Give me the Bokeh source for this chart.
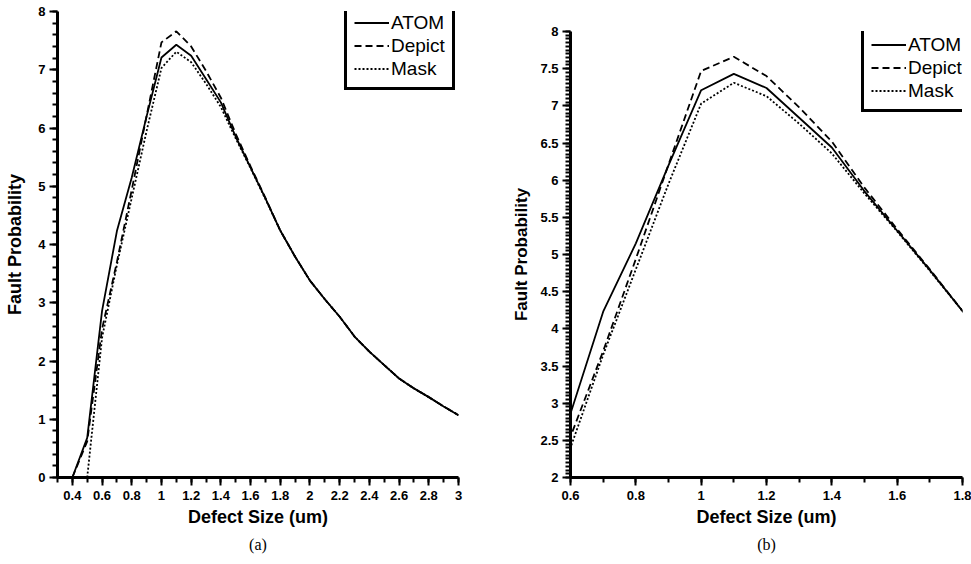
from bokeh.plotting import figure
from bokeh.layouts import row
from bokeh.models import Range1d, FixedTicker, Legend, LegendItem, Title
from bokeh.embed import file_html
from bokeh.resources import INLINE

# ---------------- data ----------------
defect_size = [0.4, 0.5, 0.6, 0.7, 0.8, 0.9, 1.0, 1.1, 1.2, 1.3, 1.4, 1.5, 1.6, 1.7,
               1.8, 1.9, 2.0, 2.1, 2.2, 2.3, 2.4, 2.5, 2.6, 2.7, 2.8, 2.9, 3.0]
atom = [0.0, 0.68, 2.86, 4.23, 5.15, 6.20, 7.21, 7.43, 7.24, 6.84, 6.44, 5.85, 5.32, 4.79,
        4.24, 3.79, 3.38, 3.06, 2.76, 2.42, 2.16, 1.93, 1.70, 1.53, 1.38, 1.22, 1.07]
depict = [0.0, 0.62, 2.55, 3.70, 4.94, 6.21, 7.47, 7.66, 7.40, 6.98, 6.52, 5.90, 5.34, 4.80,
          4.24, 3.79, 3.38, 3.06, 2.76, 2.42, 2.16, 1.93, 1.70, 1.53, 1.38, 1.22, 1.07]
mask_size = [0.5, 0.6, 0.7, 0.8, 0.9, 1.0, 1.1, 1.2, 1.3, 1.4, 1.5, 1.6, 1.7,
             1.8, 1.9, 2.0, 2.1, 2.2, 2.3, 2.4, 2.5, 2.6, 2.7, 2.8, 2.9, 3.0]
mask = [0.0, 2.40, 3.65, 4.80, 5.95, 7.03, 7.31, 7.13, 6.76, 6.36, 5.82, 5.31, 4.78,
        4.24, 3.79, 3.38, 3.06, 2.76, 2.42, 2.16, 1.93, 1.70, 1.53, 1.38, 1.22, 1.07]

series_names = ["ATOM", "Depict", "Mask"]
captions = ["(a)", "(b)"]

# tick positions / labels
a_x_ticks = [0.4, 0.6, 0.8, 1.0, 1.2, 1.4, 1.6, 1.8, 2.0, 2.2, 2.4, 2.6, 2.8, 3.0]
a_x_minor = [round(0.3 + 0.1 * i, 1) for i in range(28)]
a_y_ticks = [0, 1, 2, 3, 4, 5, 6, 7, 8]
a_y_minor = [round(0.2 * i, 1) for i in range(41)]
b_x_ticks = [0.6, 0.8, 1.0, 1.2, 1.4, 1.6, 1.8]
b_x_minor = [round(0.6 + 0.1 * i, 1) for i in range(13)]
b_y_ticks = [2, 2.5, 3, 3.5, 4, 4.5, 5, 5.5, 6, 6.5, 7, 7.5, 8]
b_y_minor = [round(2 + 0.05 * i, 2) for i in range(121)]

SANS = "Liberation Sans"
SERIF = "Liberation Serif"


def lab(v):
    return ("%g" % v)


def make_panel(x_rng, y_rng, xt, xm, yt, ym, width, borders, caption, cap_dx,
               ylab_size, ylab_standoff, legend_loc):
    p = figure(width=width, height=564, output_backend="svg", toolbar_location=None,
               x_range=Range1d(*x_rng), y_range=Range1d(*y_rng),
               min_border_left=borders[0], min_border_right=borders[1],
               min_border_top=borders[2], min_border_bottom=borders[3])
    p.frame_align = False
    p.background_fill_color = "white"
    p.border_fill_color = "white"
    p.outline_line_color = None
    p.xgrid.visible = False
    p.ygrid.visible = False

    r1 = p.line(defect_size, atom, line_color="black", line_width=1.8)
    r2 = p.line(defect_size, depict, line_color="black", line_width=1.8, line_dash="7 4")
    r3 = p.line(mask_size, mask, line_color="black", line_width=1.8, line_dash="2 2")

    p.xaxis.ticker = FixedTicker(ticks=xt, minor_ticks=xm)
    p.yaxis.ticker = FixedTicker(ticks=yt, minor_ticks=ym)
    p.xaxis.major_label_overrides = {t: lab(t) for t in xt}
    p.yaxis.major_label_overrides = {t: lab(t) for t in yt}
    for ax in (p.xaxis[0], p.yaxis[0]):
        ax.axis_line_width = 3
        ax.axis_line_color = "black"
        ax.major_tick_line_width = 2
        ax.minor_tick_line_width = 2
        ax.major_tick_in = 0
        ax.minor_tick_in = 0
        ax.major_tick_out = 8
        ax.minor_tick_out = 5
        ax.major_label_text_font = SANS
        ax.major_label_text_font_style = "bold"
        ax.major_label_text_font_size = "13px"
        ax.major_label_text_color = "black"
        ax.axis_label_text_font = SANS
        ax.axis_label_text_font_style = "bold"
        ax.axis_label_text_color = "black"
        ax.major_label_standoff = 4
    p.xaxis.major_label_standoff = 5
    p.xaxis.axis_label = "Defect Size (um)"
    p.xaxis.axis_label_text_font_size = "18px"
    p.xaxis.axis_label_standoff = 4
    p.yaxis.axis_label = "Fault Probability"
    p.yaxis.axis_label_text_font_size = ylab_size
    p.yaxis.axis_label_standoff = ylab_standoff

    legend = Legend(items=[LegendItem(label=series_names[0], renderers=[r1]),
                           LegendItem(label=series_names[1], renderers=[r2]),
                           LegendItem(label=series_names[2], renderers=[r3])],
                    location=legend_loc)
    legend.label_text_font = SANS
    legend.label_text_font_size = "19px"
    legend.label_text_color = "black"
    legend.glyph_width = 35
    legend.glyph_height = 23
    legend.label_height = 23
    legend.label_standoff = 2
    legend.spacing = 0
    legend.padding = 7
    legend.margin = 0
    legend.border_line_color = "black"
    legend.border_line_alpha = 1.0
    legend.border_line_width = 3
    legend.background_fill_color = "white"
    legend.background_fill_alpha = 1.0
    p.add_layout(legend)

    cap = Title(text=caption, align="center", offset=cap_dx, standoff=9,
                text_font=SERIF, text_font_size="16px", text_font_style="normal",
                text_color="black")
    p.add_layout(cap, "below")
    return p


pa = make_panel((0.3, 3.0), (0, 8), a_x_ticks, a_x_minor, a_y_ticks, a_y_minor,
                505, (57, 47, 11, 87), captions[0], 0, "18px", 10, (287, 387))
pb = make_panel((0.6, 1.8), (2, 8), b_x_ticks, b_x_minor, b_y_ticks, b_y_minor,
                466, (65, 9, 31, 87), captions[1], -9, "17px", 6, (291, 365))

layout = row(pa, pb)
open("out.html", "w").write(file_html(layout, INLINE))
